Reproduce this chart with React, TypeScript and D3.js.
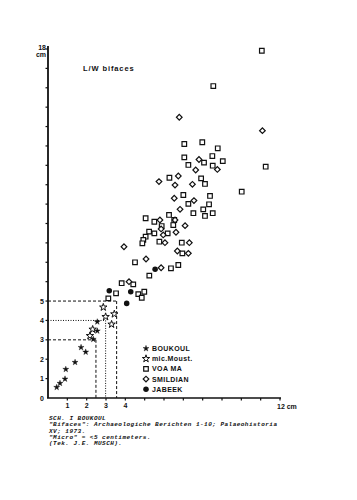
import React from "react";
import * as d3 from "d3";

// ---- data (length, width in cm) ----
const boukoulX = [0.45, 0.62, 0.88, 0.92, 1.40, 1.71, 1.95, 2.34, 2.55, 2.55];
const boukoulY = [0.55, 0.76, 0.98, 1.48, 1.84, 2.61, 2.37, 3.03, 3.46, 3.93];

const moustX = [2.17, 2.31, 2.86, 2.98, 3.43, 3.29];
const moustY = [3.21, 3.54, 4.68, 4.19, 4.33, 3.80];

const voaX = [11.06, 8.55, 7.05, 7.98, 8.78, 8.50, 7.05, 7.26, 8.07, 8.52, 9.04, 11.26, 6.28, 7.92, 8.12, 10.02, 7.00, 8.38, 7.26, 8.33, 8.03, 8.52, 7.52, 8.12, 5.05, 5.50, 6.26, 6.53, 5.88, 6.48, 5.23, 5.50, 6.19, 5.05, 4.93, 4.88, 5.76, 6.92, 6.95, 4.50, 6.74, 6.36, 5.24, 3.81, 4.41, 3.52, 4.67, 4.98, 3.12, 4.85];
const voaY = [17.91, 16.09, 13.10, 13.19, 12.88, 12.48, 12.41, 12.02, 12.14, 11.98, 12.22, 11.93, 11.36, 11.33, 11.04, 10.64, 10.47, 10.42, 10.01, 9.99, 9.73, 9.53, 9.53, 9.39, 9.27, 9.09, 9.44, 9.18, 8.87, 8.92, 8.58, 8.49, 8.49, 8.32, 8.15, 7.98, 8.06, 8.01, 7.46, 7.00, 6.86, 6.69, 6.31, 5.92, 5.86, 5.40, 5.36, 5.48, 5.14, 5.17];

const smilX = [6.79, 11.09, 7.81, 7.64, 8.76, 5.74, 6.74, 6.57, 7.47, 6.53, 7.55, 6.83, 5.79, 6.57, 5.85, 7.09, 6.62, 5.96, 6.05, 7.31, 6.69, 7.26, 3.93, 5.07, 5.85, 4.19];
const smilY = [14.48, 13.79, 12.30, 11.76, 11.79, 11.16, 11.45, 10.98, 11.02, 10.30, 10.18, 9.73, 9.18, 9.18, 8.72, 8.89, 8.55, 8.41, 8.01, 8.01, 7.58, 7.46, 7.80, 7.17, 6.72, 6.00];

const jabeekX = [3.17, 4.28, 4.07, 5.54];
const jabeekY = [5.53, 5.48, 4.88, 6.64];

const yTickLabels = ["1", "2", "3", "4", "5"];
const xTickLabels = ["1", "2", "3", "4"];
const legendLabels = ["BOUKOUL", "mic.Moust.", "VOA MA", "SMILDIAN", "JABEEK"];
const captionLines = [
  "SCH. I BOUKOUL",
  "\"Bifaces\": Archaeologiche Berichten 1-10; Palaeohistoria",
  "XV; 1973.",
  "\"Micro\" = <5 centimeters.",
  "(Tek. J.E. MUSCH).",
];
// guide lines
const guideX = [2.48, 2.98, 3.55];
const guideY = [3, 4, 5];

const INK = "#111";
const sans = "'Liberation Sans', Arial, sans-serif";
const mono = "'Liberation Mono', 'DejaVu Sans Mono', monospace";

const x = d3.scaleLinear().domain([0, 12]).range([48, 280]);
const y = d3.scaleLinear().domain([0, 18]).range([398, 49]);

const starSmall = d3.symbol().type(d3.symbolStar).size(11)() as string;
const starBig = d3.symbol().type(d3.symbolStar).size(17)() as string;
const square = d3.symbol().type(d3.symbolSquare).size(21)() as string;
const diamond = d3.symbol().type(d3.symbolSquare).size(16)() as string;
const circle = d3.symbol().type(d3.symbolCircle).size(24)() as string;

type Mark = "bk" | "mm" | "voa" | "sm" | "jb";

function Symbol({ kind, cx, cy }: { kind: Mark; cx: number; cy: number }) {
  const t = `translate(${cx},${cy})`;
  if (kind === "bk") return <path d={starSmall} transform={t} fill={INK} stroke={INK} strokeWidth={0.4} />;
  if (kind === "mm")
    return <path d={starBig} transform={t} fill="#fff" stroke={INK} strokeWidth={1} />;
  if (kind === "voa")
    return <path d={square} transform={t} fill="#fff" stroke={INK} strokeWidth={1.2} />;
  if (kind === "sm")
    return <path d={diamond} transform={`${t} rotate(45)`} fill="#fff" stroke={INK} strokeWidth={1.2} />;
  return <path d={circle} transform={t} fill={INK} />;
}

export default function App() {
  const yTicks = d3.range(1, 19);
  const xTicks = d3.range(1, 13);
  const series: [Mark, number[], number[]][] = [
    ["voa", voaX, voaY],
    ["sm", smilX, smilY],
    ["bk", boukoulX, boukoulY],
    ["mm", moustX, moustY],
    ["jb", jabeekX, jabeekY],
  ];
  const legendKinds: Mark[] = ["bk", "mm", "voa", "sm", "jb"];
  const dashes = ["3,2", "1,1.5", "3,2"];

  return (
    <svg
      width={357}
      height={500}
      style={{ position: "absolute", left: 0, top: 0, background: "#fff" }}
    >
      <rect width={357} height={500} fill="#fff" />
      {/* guide lines */}
      {guideY.map((gy, i) => (
        <g key={"g" + i} stroke={INK} strokeWidth={1} strokeDasharray={dashes[i]} fill="none">
          <line x1={x(0)} x2={x(guideX[i])} y1={y(gy)} y2={y(gy)} />
          <line x1={x(guideX[i])} x2={x(guideX[i])} y1={y(gy)} y2={y(0)} />
        </g>
      ))}
      {/* axes */}
      <line x1={x(0)} x2={x(0)} y1={y(0)} y2={y(18) - 3} stroke={INK} strokeWidth={1.8} />
      <line x1={x(0) - 1} x2={x(12) + 1} y1={y(0)} y2={y(0)} stroke={INK} strokeWidth={1.6} />
      {yTicks.map((t) => (
        <line key={"yt" + t} x1={x(0) - 2.5} x2={x(0)} y1={y(t)} y2={y(t)} stroke={INK} strokeWidth={1.2} />
      ))}
      {xTicks.map((t) => (
        <line key={"xt" + t} x1={x(t)} x2={x(t)} y1={y(0)} y2={y(0) + 2.5} stroke={INK} strokeWidth={1.2} />
      ))}
      <g fontFamily={sans} fontWeight="bold" fontSize={7} fill={INK}>
        {yTickLabels.map((l, i) => (
          <text key={"yl" + l} x={x(0) - 4} y={y(i + 1) + 2.5} textAnchor="end">{l}</text>
        ))}
        {xTickLabels.map((l, i) => (
          <text key={"xl" + l} x={x(i + 1)} y={y(0) + 10} textAnchor="middle">{l}</text>
        ))}
        <text x={x(0) - 4} y={y(0) + 2.5} textAnchor="end">0</text>
        <text x={x(12) - 3} y={y(0) + 11}>12 cm</text>
        <text x={x(0) - 2} y={y(18) + 1} textAnchor="end">18</text>
        <text x={x(0) - 2} y={y(18) + 7.5} textAnchor="end">cm</text>
        <text x={83} y={70.5} letterSpacing={0.9} fontSize={7.5}>L/W bifaces</text>
      </g>
      {/* points */}
      {series.map(([kind, xs, ys]) =>
        xs.map((v, i) => <Symbol key={kind + i} kind={kind} cx={x(v)} cy={y(ys[i])} />)
      )}
      {/* legend */}
      <g fontFamily={sans} fontWeight="bold" fontSize={7} fill={INK} letterSpacing={0.4}>
        {legendLabels.map((l, i) => (
          <g key={l}>
            <Symbol kind={legendKinds[i]} cx={146} cy={348.5 + i * 10.2} />
            <text x={152} y={351 + i * 10.2}>{l}</text>
          </g>
        ))}
      </g>
      {/* caption */}
      <g fontFamily={mono} fontStyle="italic" fontWeight="bold" fontSize={6} letterSpacing={0.48} fill={INK}>
        {captionLines.map((l, i) => (
          <text key={i} x={49} y={420 + i * 6.3} xmlSpace="preserve">{l}</text>
        ))}
      </g>
    </svg>
  );
}
